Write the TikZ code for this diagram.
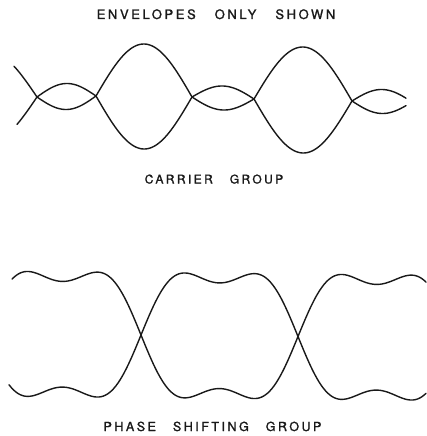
\documentclass[tikz,border=0pt]{standalone}
\usepackage{fontspec}
\newfontfamily\labfont[LetterSpace=20,FakeBold=1.3]{TeX Gyre Heros}
\newcommand\labA{\labfont\fontsize{13}{15}\selectfont\setlength{\spaceskip}{19pt}}
\newcommand\labB{\labfont\fontsize{12}{14}\selectfont\setlength{\spaceskip}{17pt}}
\newcommand\labC{\labfont\fontsize{12.5}{14}\selectfont\setlength{\spaceskip}{17pt}}
\begin{document}
\begin{tikzpicture}[x=1pt,y=-1pt,
  wave/.style={line width=1.4pt, draw=black!90, line cap=round, line join=round},
  lab/.style={inner sep=0pt, anchor=base, text=black!90}]
\useasboundingbox (0,0) rectangle (426,436);
\fill[white] (0,0) rectangle (426,436);

% top: carrier group, sine lobes between crossings
% lobe 0 (z=-59..37), centre 97, amplitude 45
\draw[wave] plot[domain=14:37, samples=30] ({\x},{97-45*sin(180*((\x+59)/96))});
\draw[wave] plot[domain=17:37, samples=30] ({\x},{97+45*sin(180*((\x+59)/96))});
% lobe 1 (37..96), centre 97->96, amplitude -13
\draw[wave] plot[domain=37:96, samples=40] ({\x},{97-(\x-37)/59+13*sin(180*((\x-37)/59))});
\draw[wave] plot[domain=37:96, samples=40] ({\x},{97-(\x-37)/59-13*sin(180*((\x-37)/59))});
% lobe 2 (96..192), centre 96->97, amplitude 52.5
\draw[wave] plot[domain=96:192, samples=60] ({\x},{96+(\x-96)/96-52.5*sin(180*((\x-96)/96))});
\draw[wave] plot[domain=96:192, samples=60] ({\x},{96+(\x-96)/96+52.5*sin(180*((\x-96)/96))});
% lobe 3 (192..254), centre 97->99, amplitude -12
\draw[wave] plot[domain=192:254, samples=40] ({\x},{97+2*(\x-192)/62+12*sin(180*((\x-192)/62))});
\draw[wave] plot[domain=192:254, samples=40] ({\x},{97+2*(\x-192)/62-12*sin(180*((\x-192)/62))});
% lobe 4 (254..352), centre 99->101, amplitude 53
\draw[wave] plot[domain=254:352, samples=60] ({\x},{99+2*(\x-254)/98-53*sin(180*((\x-254)/98))});
\draw[wave] plot[domain=254:352, samples=60] ({\x},{99+2*(\x-254)/98+53*sin(180*((\x-254)/98))});
% lobe 5 (352..412), centre 101->102, amplitude -12
\draw[wave] plot[domain=352:406, samples=40] ({\x},{101+(\x-352)/60+12*sin(180*((\x-352)/60))});
\draw[wave] plot[domain=352:406, samples=40] ({\x},{101+(\x-352)/60-12*sin(180*((\x-352)/60))});

% bottom: phase shifting group, lobes of shape sin t + 0.2475 sin 3t
\draw[wave] plot[domain=12:426, samples=200] ({\x},{335+1.5*(\x-141)/157-70.2*(sin(180*((\x+16)/157))+0.2475*sin(540*((\x+16)/157)))});
\draw[wave] plot[domain=9:426, samples=200] ({\x},{335+1.5*(\x-141)/157+70.2*(sin(180*((\x+16)/157))+0.2475*sin(540*((\x+16)/157)))});

\node[lab,font=\labA] (title) at (216,19) {ENVELOPES ONLY SHOWN};
\node[lab,font=\labB] (carrier) at (214,183.5) {CARRIER GROUP};
\node[lab,font=\labC] (phase) at (212.5,431) {PHASE SHIFTING GROUP};
\end{tikzpicture}
\end{document}
